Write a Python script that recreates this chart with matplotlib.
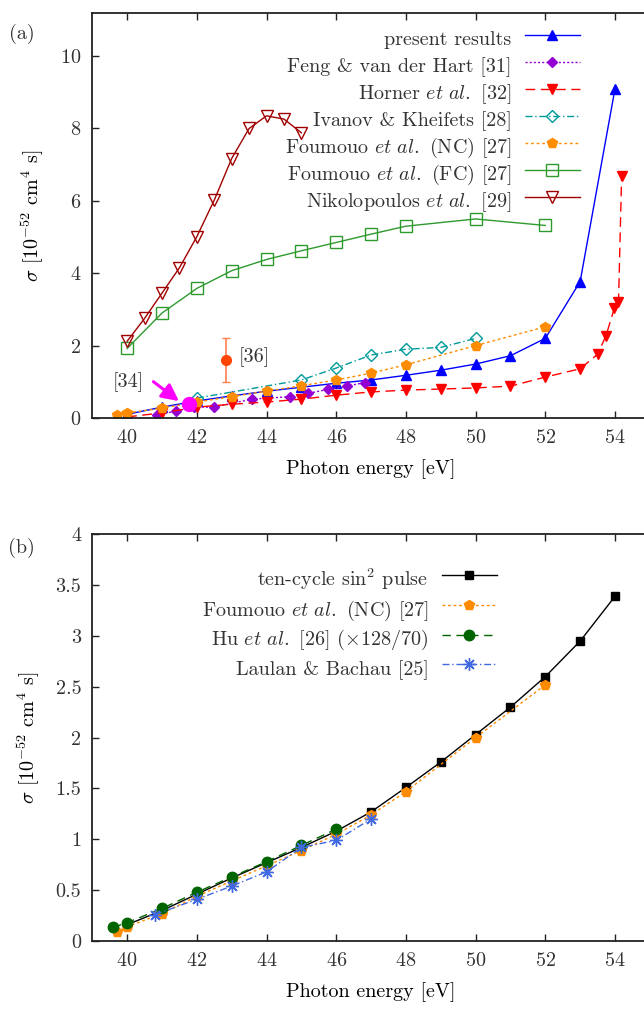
import matplotlib
matplotlib.use("Agg")
import matplotlib.pyplot as plt

plt.rcParams["font.family"] = ["cmr10", "DejaVu Serif"]
plt.rcParams["mathtext.fontset"] = "cm"
plt.rcParams["axes.formatter.use_mathtext"] = True
plt.rcParams["axes.unicode_minus"] = False
plt.rcParams["font.size"] = 14.5
plt.rcParams["text.color"] = "#333333"
plt.rcParams["xtick.color"] = "#222222"
plt.rcParams["ytick.color"] = "#222222"
plt.rcParams["xtick.labelcolor"] = "#333333"
plt.rcParams["ytick.labelcolor"] = "#333333"

# ---- panel (a) data ----
present_x = [40, 41, 42, 43, 44, 45, 46, 47, 48, 49, 50, 51, 52, 53, 54]
present_y = [0.10, 0.30, 0.47, 0.61, 0.74, 0.85, 0.96, 1.05, 1.18, 1.32, 1.49, 1.72, 2.20, 3.77, 9.10]

feng_x = [40.85, 41.4, 41.93, 42.48, 43.58, 44.67, 45.2, 45.76, 46.3, 46.83]
feng_y = [0.08, 0.19, 0.30, 0.30, 0.52, 0.59, 0.68, 0.79, 0.88, 0.98]

horner_x = [40, 41, 42, 43, 44, 45, 46, 47, 48, 49, 50, 51, 52, 53, 53.5, 53.74, 53.98, 54.1, 54.19]
horner_y = [0.03, 0.14, 0.30, 0.38, 0.44, 0.52, 0.63, 0.72, 0.77, 0.80, 0.83, 0.88, 1.13, 1.36,
            1.76, 2.27, 3.03, 3.20, 6.68]

ivanov_x = [42, 45, 46, 47, 48, 49, 50]
ivanov_y = [0.55, 1.05, 1.38, 1.74, 1.90, 1.95, 2.20]

nc_x = [39.7, 40, 41, 42, 43, 44, 45, 46, 47, 48, 50, 52]
nc_y = [0.09, 0.14, 0.27, 0.44, 0.59, 0.74, 0.89, 1.05, 1.24, 1.47, 2.00, 2.52]

fc_x = [40, 41, 42, 43, 44, 45, 46, 47, 48, 50, 52]
fc_y = [1.92, 2.90, 3.58, 4.07, 4.38, 4.62, 4.85, 5.08, 5.30, 5.50, 5.32]

nik_x = [40, 40.5, 41, 41.5, 42, 42.5, 43, 43.5, 44, 44.5, 45]
nik_y = [2.12, 2.75, 3.45, 4.15, 5.01, 6.02, 7.17, 8.00, 8.35, 8.26, 7.88]

exp34_x, exp34_y = 41.78, 0.40
exp36_x, exp36_y = 42.84, 1.60
exp36_lo, exp36_hi = 0.60, 0.62

# ---- panel (b) data ----
pulse_x = [40, 41, 42, 43, 44, 45, 46, 47, 48, 49, 50, 51, 52, 53, 54]
pulse_y = [0.16, 0.30, 0.46, 0.62, 0.77, 0.92, 1.08, 1.27, 1.51, 1.76, 2.03, 2.30, 2.60, 2.95, 3.39]

hu_x = [39.6, 40, 41, 42, 43, 44, 45, 46]
hu_y = [0.135, 0.18, 0.32, 0.48, 0.63, 0.78, 0.94, 1.10]

laulan_x = [40.8, 42, 43, 44, 45, 46, 47]
laulan_y = [0.26, 0.41, 0.54, 0.68, 0.92, 0.99, 1.20]

xticks = [40, 42, 44, 46, 48, 50, 52, 54]

fig = plt.figure(figsize=(6.44, 10.15), dpi=100)
ax1 = fig.add_axes([0.1433, 0.5882, 0.8658, 0.3993])
ax2 = fig.add_axes([0.1433, 0.0729, 0.8658, 0.4007])

etal = r"$\mathit{et\ al.}$"
lw = 1.0

# panel (a)
ax1.plot(present_x, present_y, "-", color="blue", lw=lw, marker="^", ms=7.5, label="present results")
ax1.plot(feng_x, feng_y, color="#9400d3", lw=lw, ls=(0, (1.5, 1.5)), marker="D", ms=5.5,
         label="Feng & van der Hart [31]")
ax1.plot(horner_x, horner_y, color="red", lw=lw, ls=(0, (7, 4)), marker="v", ms=7.5,
         label=f"Horner {etal} [32]")
ax1.plot(ivanov_x, ivanov_y, color="#009a9a", lw=lw, ls=(0, (5, 2, 1, 2)), marker="D", ms=6,
         mfc="none", label="Ivanov & Kheifets [28]")
ax1.plot(nc_x, nc_y, color="#ff8c00", lw=lw, ls=(0, (2, 2)), marker="p", ms=7.5,
         label=f"Foumouo {etal} (NC) [27]")
ax1.plot(fc_x, fc_y, color="#2e9a2e", lw=lw, marker="s", ms=8.5, mfc="none",
         label=f"Foumouo {etal} (FC) [27]")
ax1.plot(nik_x, nik_y, color="#a00000", lw=lw, marker="v", ms=8.5, mfc="none",
         label=f"Nikolopoulos {etal} [29]")

ax1.plot(exp34_x, exp34_y, "o", color="magenta", ms=10)
ax1.annotate("", xy=(41.55, 0.42), xytext=(40.69, 1.05),
             arrowprops=dict(arrowstyle="-|>,head_length=0.7,head_width=0.35",
                             color="magenta", lw=2.2))
ax1.text(40.02, 0.98, "[34]", ha="center", va="center")
ax1.errorbar([exp36_x], [exp36_y], yerr=[[exp36_lo], [exp36_hi]], fmt="o", color="#ff4500",
             ecolor="#ff7f50", ms=7, capsize=3, elinewidth=1.2)
ax1.text(43.21, 1.69, "[36]", ha="left", va="center")

ax1.set_xlim(39, 55)
ax1.set_ylim(0, 11.2)
ax1.set_yticks([0, 2, 4, 6, 8, 10])
ax1.set_xlabel("Photon energy [eV]", labelpad=9)
ax1.set_ylabel(r"$\sigma$ [$10^{-52}$ cm$^4$ s]", labelpad=10)
leg1 = ax1.legend(loc="upper right", bbox_to_anchor=(0.9006, 0.9754), bbox_transform=fig.transFigure,
                  frameon=False, markerfirst=False, borderpad=0, borderaxespad=0,
                  handlelength=2.75, handleheight=1.686, handletextpad=0.65, labelspacing=0,
                  fontsize=14.5)

# panel (b)
ax2.plot(pulse_x, pulse_y, "-", color="black", lw=lw, marker="s", ms=6,
         label=r"ten-cycle sin$^2$ pulse")
ax2.plot(nc_x, nc_y, color="#ff8c00", lw=lw, ls=(0, (2, 2)), marker="p", ms=7.5,
         label=f"Foumouo {etal} (NC) [27]")
ax2.plot(hu_x, hu_y, color="#006400", lw=lw, ls=(0, (6, 4)), marker="o", ms=7.5,
         label=f"Hu {etal} [26] ($\\times$128/70)")
ax2.plot(laulan_x, laulan_y, color="#4169e1", lw=lw, ls=(0, (5, 2, 1, 2)), marker=(8, 2, 0), ms=9,
         mew=1.0, label="Laulan & Bachau [25]")

ax2.set_xlim(39, 55)
ax2.set_ylim(0, 4)
ax2.set_yticks([0, 0.5, 1, 1.5, 2, 2.5, 3, 3.5, 4])
ax2.set_yticklabels(["0", "0.5", "1", "1.5", "2", "2.5", "3", "3.5", "4"])
ax2.set_xlabel("Photon energy [eV]", labelpad=9)
ax2.set_ylabel(r"$\sigma$ [$10^{-52}$ cm$^4$ s]", labelpad=10)
leg2 = ax2.legend(loc="upper right", bbox_to_anchor=(0.7717, 0.4437), bbox_transform=fig.transFigure,
                  frameon=False, markerfirst=False, borderpad=0, borderaxespad=0,
                  handlelength=2.75, handleheight=1.894, handletextpad=0.65, labelspacing=0,
                  fontsize=14.5)

for ax in (ax1, ax2):
    ax.set_xticks(xticks)
    ax.tick_params(direction="in", length=5, width=1.0, top=True, right=False, pad=8)
    for sp in ax.spines.values():
        sp.set_linewidth(1.3)
        sp.set_color("#222222")

fig.text(0.034, 0.967, "(a)", ha="center", va="center")
fig.text(0.034, 0.460, "(b)", ha="center", va="center")

fig.savefig("out.png", dpi=100)
